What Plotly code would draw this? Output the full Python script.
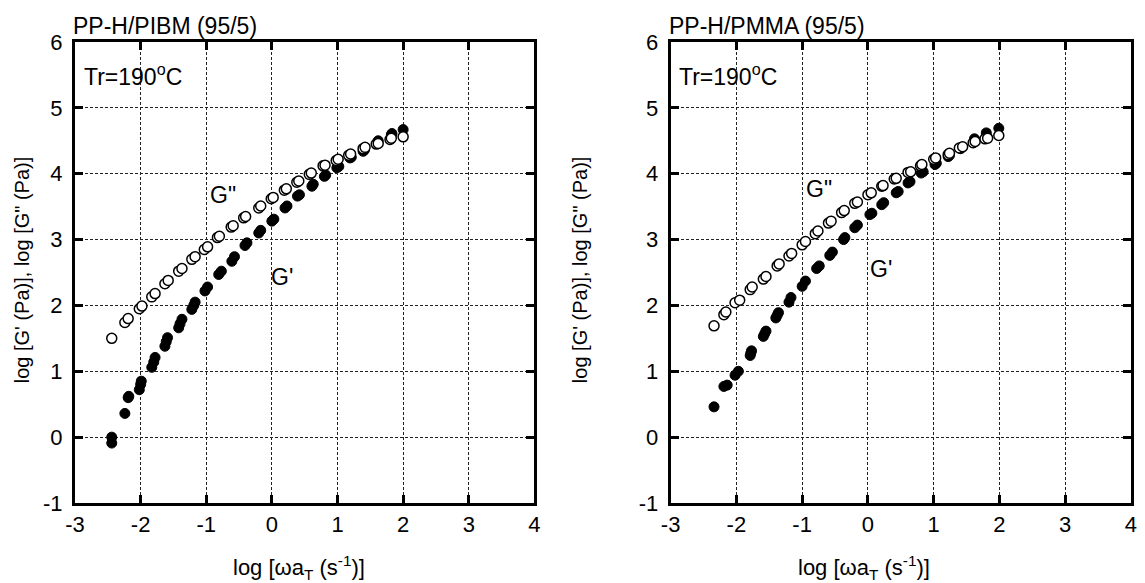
import plotly.graph_objects as go

# ---------------- data ----------------
# Left panel: PP-H/PIBM (95/5)
pibm_gpp_x = [-2.44, -2.24, -2.19, -2.02, -1.98, -1.83, -1.78, -1.63, -1.58, -1.42, -1.37,
              -1.22, -1.17, -1.03, -0.98, -0.83, -0.80, -0.62, -0.59, -0.43, -0.40, -0.20,
              -0.17, -0.01, 0.02, 0.19, 0.22, 0.38, 0.41, 0.57, 0.60, 0.78, 0.81, 0.98, 1.01,
              1.17, 1.20, 1.39, 1.42, 1.59, 1.62, 1.80, 1.82, 2.00]
pibm_gpp_y = [1.50, 1.74, 1.80, 1.95, 1.99, 2.13, 2.18, 2.33, 2.38, 2.52, 2.56,
              2.70, 2.74, 2.85, 2.89, 3.03, 3.05, 3.19, 3.21, 3.33, 3.35, 3.48,
              3.51, 3.62, 3.64, 3.75, 3.77, 3.87, 3.89, 3.99, 4.01, 4.12, 4.13, 4.20, 4.22,
              4.28, 4.30, 4.38, 4.40, 4.45, 4.46, 4.52, 4.54, 4.56]
pibm_gp_x = [-2.44, -2.44, -2.24, -2.19, -2.18, -2.02, -2.00, -1.99, -1.83, -1.80, -1.78,
             -1.63, -1.61, -1.59, -1.42, -1.40, -1.37, -1.22, -1.19, -1.17, -1.02, -0.98,
             -0.81, -0.77, -0.61, -0.57, -0.41, -0.38, -0.20, -0.17, 0.00, 0.03, 0.20, 0.23,
             0.39, 0.42, 0.61, 0.63, 0.80, 0.82, 0.99, 1.02, 1.19, 1.21, 1.39, 1.41, 1.61,
             1.62, 1.82, 1.83, 2.00]
pibm_gp_y = [0.00, -0.09, 0.36, 0.60, 0.62, 0.72, 0.80, 0.85, 1.06, 1.14, 1.21,
             1.38, 1.45, 1.51, 1.66, 1.72, 1.79, 1.94, 2.00, 2.05, 2.22, 2.28,
             2.47, 2.52, 2.67, 2.74, 2.91, 2.95, 3.10, 3.14, 3.28, 3.31, 3.48, 3.51,
             3.66, 3.68, 3.81, 3.84, 3.96, 3.98, 4.09, 4.11, 4.24, 4.25, 4.34, 4.36, 4.48,
             4.50, 4.59, 4.61, 4.67]

# Right panel: PP-H/PMMA (95/5)
pmma_gpp_x = [-2.34, -2.19, -2.16, -2.02, -1.95, -1.79, -1.76, -1.59, -1.55, -1.38, -1.35,
              -1.20, -1.16, -1.00, -0.95, -0.80, -0.76, -0.60, -0.56, -0.40, -0.36, -0.20,
              -0.16, 0.00, 0.05, 0.21, 0.23, 0.40, 0.43, 0.61, 0.65, 0.80, 0.82, 1.00, 1.03,
              1.22, 1.24, 1.39, 1.44, 1.60, 1.63, 1.78, 1.82, 1.99]
pmma_gpp_y = [1.69, 1.86, 1.90, 2.04, 2.08, 2.24, 2.28, 2.40, 2.44, 2.60, 2.63,
              2.75, 2.79, 2.92, 2.97, 3.09, 3.13, 3.25, 3.28, 3.41, 3.44, 3.55,
              3.57, 3.68, 3.71, 3.81, 3.82, 3.92, 3.93, 4.02, 4.03, 4.12, 4.14, 4.22, 4.24,
              4.29, 4.31, 4.39, 4.41, 4.47, 4.49, 4.53, 4.54, 4.58]
pmma_gp_x = [-2.34, -2.19, -2.14, -2.02, -1.97, -1.79, -1.78, -1.77, -1.59, -1.57, -1.55,
             -1.40, -1.38, -1.36, -1.20, -1.17, -1.00, -0.95, -0.78, -0.74, -0.58, -0.54,
             -0.37, -0.35, -0.20, -0.16, 0.03, 0.06, 0.21, 0.24, 0.43, 0.46, 0.61, 0.64,
             0.81, 0.84, 1.02, 1.04, 1.22, 1.24, 1.41, 1.43, 1.62, 1.80, 1.99]
pmma_gp_y = [0.46, 0.77, 0.79, 0.94, 1.00, 1.24, 1.28, 1.31, 1.53, 1.57, 1.61,
             1.81, 1.85, 1.89, 2.05, 2.12, 2.29, 2.37, 2.56, 2.60, 2.76, 2.81,
             3.00, 3.03, 3.18, 3.22, 3.38, 3.40, 3.53, 3.56, 3.71, 3.73, 3.86, 3.88,
             4.01, 4.03, 4.14, 4.16, 4.26, 4.28, 4.38, 4.40, 4.53, 4.62, 4.69]

x_ticks = [-3, -2, -1, 0, 1, 2, 3, 4]
x_ticktext = ["-3", "-2", "-1", "0", "1", "2", "3", "4"]
y_ticks = [-1, 0, 1, 2, 3, 4, 5, 6]
y_ticktext = ["-1", "0", "1", "2", "3", "4", "5", "6"]
titles = ["PP-H/PIBM (95/5)", "PP-H/PMMA (95/5)"]

# ---------------- figure ----------------
FONT = "Liberation Sans, Arial, sans-serif"
fig = go.Figure()

filled = dict(size=10, color="black", line=dict(color="black", width=1))
opened = dict(size=10, color="white", line=dict(color="black", width=1.5))

fig.add_trace(go.Scatter(x=pibm_gp_x, y=pibm_gp_y, mode="markers", marker=filled,
                         xaxis="x", yaxis="y", showlegend=False))
fig.add_trace(go.Scatter(x=pibm_gpp_x, y=pibm_gpp_y, mode="markers", marker=opened,
                         xaxis="x", yaxis="y", showlegend=False))
fig.add_trace(go.Scatter(x=pmma_gp_x, y=pmma_gp_y, mode="markers", marker=filled,
                         xaxis="x2", yaxis="y2", showlegend=False))
fig.add_trace(go.Scatter(x=pmma_gpp_x, y=pmma_gpp_y, mode="markers", marker=opened,
                         xaxis="x2", yaxis="y2", showlegend=False))

W, H = 1145, 583
ML, MR, MT, MB = 75, 8, 42, 80
PW = W - ML - MR
PH = H - MT - MB

axis_common = dict(
    showline=True, linewidth=3, linecolor="black", mirror="ticks",
    ticks="inside", ticklen=8, tickwidth=3, tickcolor="black",
    showgrid=True, gridcolor="#222222", gridwidth=1, griddash="3px,2px",
    zeroline=False, tickfont=dict(family=FONT, size=22, color="black"),
)

fig.update_layout(
    width=W, height=H,
    margin=dict(l=ML, r=MR, t=MT, b=MB),
    paper_bgcolor="white", plot_bgcolor="white",
    font=dict(family=FONT, color="black"),
    xaxis=dict(domain=[0, 462 / PW], range=[-3, 4], tickvals=x_ticks, ticktext=x_ticktext,
               anchor="y", ticklabelstandoff=0, **axis_common),
    yaxis=dict(domain=[0, 1], range=[-1, 6], tickvals=y_ticks, ticktext=y_ticktext,
               anchor="x", ticklabelstandoff=5, **axis_common),
    xaxis2=dict(domain=[599 / PW, 1], range=[-3, 4], tickvals=x_ticks, ticktext=x_ticktext,
                anchor="y2", ticklabelstandoff=0, **axis_common),
    yaxis2=dict(domain=[0, 1], range=[-1, 6], tickvals=y_ticks, ticktext=y_ticktext,
                anchor="x2", ticklabelstandoff=5, **axis_common),
)

ann = []
TXT = dict(family=FONT, size=23, color="black")
for i, (xa, ya) in enumerate([("x", "y"), ("x2", "y2")]):
    ann.append(dict(text=titles[i], xref=f"{xa} domain", yref=f"{ya} domain", x=0, y=1,
                    xanchor="left", yanchor="bottom", showarrow=False, font=TXT, xshift=-4,
                    yshift=1))
    ann.append(dict(text="Tr=190<sup>o</sup>C", xref=xa, yref=ya, x=-2.9, y=5.5,
                    xanchor="left", yanchor="middle", showarrow=False, font=TXT))

# G labels
ann += [
    dict(text="G\"", xref="x", yref="y", x=-0.75, y=3.68, showarrow=False, font=TXT),
    dict(text="G'", xref="x", yref="y", x=0.16, y=2.43, showarrow=False, font=TXT),
    dict(text="G\"", xref="x2", yref="y2", x=-0.74, y=3.77, showarrow=False, font=TXT),
    dict(text="G'", xref="x2", yref="y2", x=0.20, y=2.56, showarrow=False, font=TXT),
]

ytitle = "log [G' (Pa)], log [G\" (Pa)]"
xtitle = "log [ωa<sub>T</sub> (s<sup>-1</sup>)]"
for px in (22, 583):
    ann.append(dict(text=ytitle, xref="paper", yref="paper", x=(px - ML) / PW,
                    y=(H - MB - 270) / PH, textangle=-90, showarrow=False,
                    xanchor="center", yanchor="middle",
                    font=dict(family=FONT, size=20, color="black")))
for px in (300, 868):
    ann.append(dict(text=xtitle, xref="paper", yref="paper", x=(px - ML) / PW,
                    y=(H - MB - 567) / PH, showarrow=False,
                    xanchor="center", yanchor="middle",
                    font=dict(family=FONT, size=22, color="black")))

fig.update_layout(annotations=ann)
fig.write_html("out.html")
